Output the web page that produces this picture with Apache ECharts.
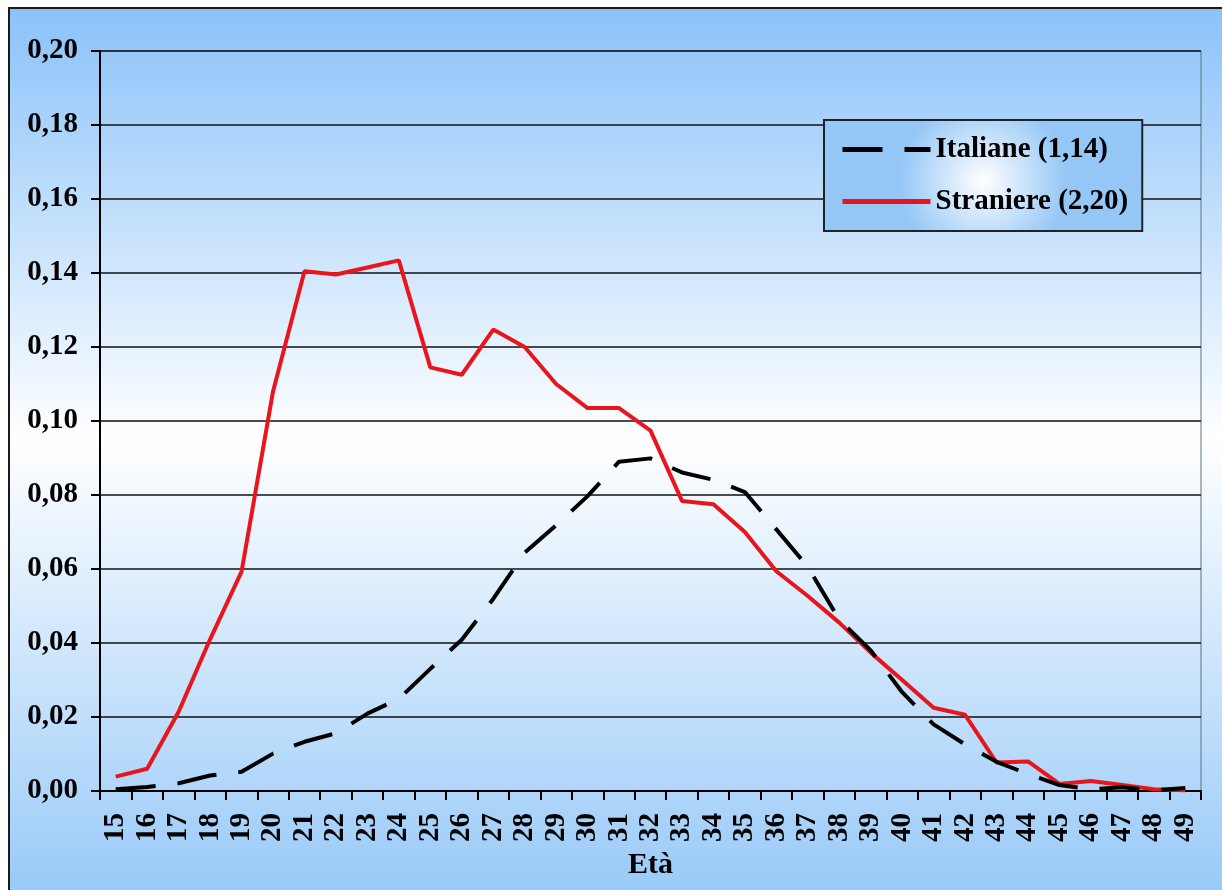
<!DOCTYPE html>
<html>
<head>
<meta charset="utf-8">
<script src="https://cdn.jsdelivr.net/npm/echarts@6/dist/echarts.min.js"></script>
<style>
  html, body { margin: 0; padding: 0; background: #ffffff; }
  #chart { width: 1222px; height: 890px; }
</style>
</head>
<body>
<div id="chart"></div>
<script>
// età 15..49
const eta = ['15','16','17','18','19','20','21','22','23','24','25','26','27','28','29','30','31','32',
  '33','34','35','36','37','38','39','40','41','42','43','44','45','46','47','48','49'];

// Italiane (1,14)
const italiane = [0.0005, 0.0011, 0.0021, 0.0042, 0.0052, 0.0101, 0.0133, 0.0156, 0.0209, 0.0249,
  0.0330, 0.0409, 0.0519, 0.0644, 0.0718, 0.0797, 0.0890, 0.0899, 0.0861, 0.0841,
  0.0808, 0.0707, 0.0606, 0.0463, 0.0380, 0.0267, 0.0180, 0.0126, 0.0079, 0.0046,
  0.0016, 0.0005, 0.0010, 0.0002, 0.0008];

// Straniere (2,20)
const straniere = [0.0039, 0.0060, 0.0214, 0.0410, 0.0593, 0.1080, 0.1405, 0.1396, 0.1415, 0.1434,
  0.1145, 0.1125, 0.1247, 0.1200, 0.1100, 0.1035, 0.1035, 0.0974, 0.0784, 0.0775,
  0.0700, 0.0594, 0.0527, 0.0455, 0.0374, 0.0300, 0.0225, 0.0206, 0.0077, 0.0080,
  0.0019, 0.0027, 0.0016, 0.0005, 0.0002];

const serif = '"Liberation Serif", "Times New Roman", serif';

const chart = echarts.init(document.getElementById('chart'));

const option = {
  animation: false,
  backgroundColor: '#ffffff',
  graphic: [
    {
      type: 'rect',
      z: -10,
      silent: true,
      shape: { x: 9, y: 8, width: 1240, height: 900 },
      style: {
        fill: {
          type: 'linear', x: 0, y: 0, x2: 0, y2: 1,
          colorStops: [
            { offset: 0, color: '#8ac2f9' },
            { offset: 0.48, color: '#ffffff' },
            { offset: 1, color: '#95c8f8' }
          ]
        },
        stroke: '#1a1a1a',
        lineWidth: 2
      }
    }
  ],
  grid: {
    left: 100,
    right: 21,
    top: 51,
    bottom: 99,
    show: true,
    borderColor: '#5d7286',
    borderWidth: 1,
    backgroundColor: 'transparent'
  },
  legend: {
    orient: 'vertical',
    left: 824,
    top: 120,
    padding: [15, 14, 15, 16],
    itemGap: 23,
    itemWidth: 88,
    itemHeight: 14,
    itemStyle: { opacity: 0 },
    lineStyle: { width: 5 },
    backgroundColor: {
      type: 'radial', x: 0.5, y: 0.55, r: 0.75,
      colorStops: [
        { offset: 0, color: '#ffffff' },
        { offset: 1, color: '#94c6f6' }
      ]
    },
    borderColor: '#222222',
    borderWidth: 2,
    textStyle: {
      fontFamily: serif,
      fontWeight: 'bold',
      fontSize: 29,
      color: '#000000'
    },
    data: ['Italiane (1,14)', 'Straniere (2,20)']
  },
  xAxis: {
    type: 'category',
    data: eta,
    boundaryGap: true,
    name: 'Età',
    nameLocation: 'middle',
    nameGap: 58,
    nameTextStyle: {
      fontFamily: serif,
      fontWeight: 'bold',
      fontSize: 30,
      color: '#000000'
    },
    axisLine: { lineStyle: { color: '#000000', width: 2 } },
    axisTick: { show: true, length: 9, lineStyle: { color: '#000000', width: 2 } },
    axisLabel: {
      rotate: 90,
      margin: 22,
      interval: 0,
      fontFamily: serif,
      fontWeight: 'bold',
      fontSize: 29,
      color: '#000000'
    }
  },
  yAxis: {
    type: 'value',
    min: 0,
    max: 0.2,
    interval: 0.02,
    axisLine: { show: true, lineStyle: { color: '#000000', width: 2 } },
    axisTick: { show: true, length: 9, lineStyle: { color: '#000000', width: 2 } },
    splitLine: { show: true, lineStyle: { color: '#111111', width: 1.5 } },
    axisLabel: {
      margin: 22,
      fontFamily: serif,
      fontWeight: 'bold',
      fontSize: 29,
      color: '#000000',
      formatter: function (v) { return v.toFixed(2).replace('.', ','); }
    }
  },
  series: [
    {
      name: 'Italiane (1,14)',
      type: 'line',
      data: italiane,
      symbol: 'none',
      z: 3,
      lineStyle: { color: '#000000', width: 4, type: [40, 22] },
      itemStyle: { color: '#000000' }
    },
    {
      name: 'Straniere (2,20)',
      type: 'line',
      data: straniere,
      symbol: 'none',
      z: 2,
      lineStyle: { color: '#e8161c', width: 4 },
      itemStyle: { color: '#e8161c' }
    }
  ]
};

chart.setOption(option);
</script>
</body>
</html>
